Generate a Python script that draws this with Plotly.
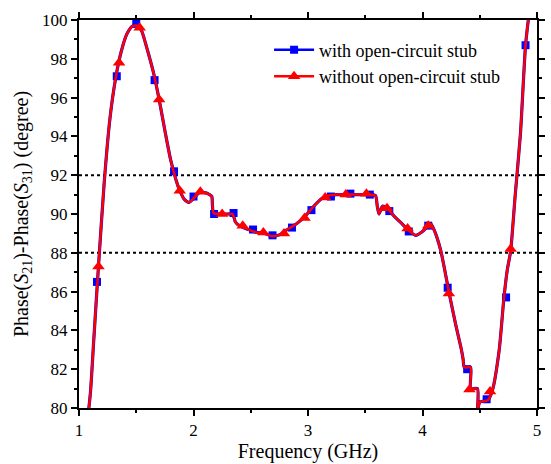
import plotly.graph_objects as go

# ---- data ----
# continuous curve (shared shape for both configurations)
line_freq = [1.075, 1.10, 1.13, 1.17, 1.22, 1.27, 1.32, 1.37, 1.42, 1.47, 1.52, 1.55, 1.60, 1.65, 1.70,
             1.75, 1.80, 1.85, 1.88, 1.92, 1.96, 2.00, 2.05, 2.10, 2.14, 2.16, 2.165, 2.175, 2.22, 2.30,
             2.34, 2.355, 2.365, 2.40, 2.48, 2.55, 2.62, 2.69, 2.76, 2.82, 2.90, 2.97, 3.05, 3.12, 3.18,
             3.25, 3.35, 3.45, 3.55, 3.59, 3.605, 3.62, 3.65, 3.69, 3.75, 3.82, 3.87, 3.94, 4.00, 4.07,
             4.10, 4.16, 4.23, 4.29, 4.34, 4.355, 4.365, 4.42, 4.421, 4.48, 4.481, 4.50, 4.57, 4.61, 4.67,
             4.71, 4.74, 4.77, 4.81, 4.855, 4.90, 4.93]
line_with = [79.4, 80.8, 83.6, 87.3, 91.6, 94.9, 97.0, 98.4, 99.3, 99.7, 99.7, 99.4, 98.4, 97.3, 95.9,
             94.3, 92.8, 91.7, 91.2, 90.75, 90.6, 90.8, 91.1, 91.1, 91.0, 90.9, 90.5, 90.05, 90.0, 90.0,
             90.0, 89.8, 89.6, 89.4, 89.2, 89.05, 89.0, 88.85, 88.95, 89.2, 89.5, 89.85, 90.4, 90.8, 90.95,
             91.0, 91.0, 91.0, 91.0, 90.95, 90.4, 90.0, 90.4, 90.3, 89.9, 89.5, 89.2, 88.9, 89.1, 89.5,
             89.2, 88.1, 86.0, 84.3, 83.0, 82.5, 82.1, 82.1, 81.0, 81.0, 79.8, 80.3, 80.4, 80.9, 83.0,
             85.6, 87.1, 88.1, 91.0, 94.1, 98.7, 100.3]
line_without = list(line_with)

# marker samples
freq_with = [1.157, 1.33, 1.50, 1.66, 1.83, 2.00, 2.18, 2.35, 2.52, 2.69, 2.86, 3.03, 3.20,
             3.37, 3.54, 3.71, 3.88, 4.05, 4.22, 4.39, 4.56, 4.73, 4.90]
phase_with = [86.5, 97.1, 99.8, 96.9, 92.2, 90.9, 90.0, 90.05, 89.2, 88.9, 89.3, 90.2, 90.9,
              91.05, 91.0, 90.15, 89.1, 89.4, 86.2, 82.0, 80.45, 85.7, 98.7]
freq_without = [1.17, 1.35, 1.53, 1.70, 1.88, 2.06, 2.25, 2.43, 2.61, 2.79, 2.97, 3.15, 3.33,
                3.51, 3.69, 3.87, 4.05, 4.23, 4.41, 4.59, 4.77]
phase_without = [87.3, 97.8, 99.6, 95.9, 91.2, 91.15, 90.0, 89.4, 89.05, 89.0, 89.8, 90.85, 91.0,
                 91.05, 90.3, 89.25, 89.4, 85.9, 80.95, 80.85, 88.2]

ref_levels = [92, 88]
x_ticks = [1, 2, 3, 4, 5]
y_ticks = [80, 82, 84, 86, 88, 90, 92, 94, 96, 98, 100]

BLUE = "#0000FF"
RED = "#FF0000"
FONT = "Liberation Serif, Times New Roman, DejaVu Serif, serif"

fig = go.Figure()

# blue curve + squares
fig.add_trace(go.Scatter(x=line_freq, y=line_with, mode="lines",
                         line=dict(color=BLUE, width=3.2, shape="spline", smoothing=0.6),
                         showlegend=False, hoverinfo="skip"))
fig.add_trace(go.Scatter(x=freq_with, y=phase_with, mode="markers",
                         marker=dict(symbol="square", size=8, color=BLUE), showlegend=False))
# red curve + triangles
fig.add_trace(go.Scatter(x=line_freq, y=line_without, mode="lines",
                         line=dict(color=RED, width=2.5, shape="spline", smoothing=0.6),
                         showlegend=False, hoverinfo="skip"))
fig.add_trace(go.Scatter(x=freq_without, y=phase_without, mode="markers",
                         marker=dict(symbol="triangle-up", size=11, color=RED), showlegend=False))

# legend entries
fig.add_trace(go.Scatter(x=[None], y=[None], mode="lines+markers", name="with open-circuit stub",
                         line=dict(color=BLUE, width=2.5),
                         marker=dict(symbol="square", size=8, color=BLUE)))
fig.add_trace(go.Scatter(x=[None], y=[None], mode="lines+markers", name="without open-circuit stub",
                         line=dict(color=RED, width=2.5),
                         marker=dict(symbol="triangle-up", size=11, color=RED)))

for lv in ref_levels:
    fig.add_hline(y=lv, line=dict(color="black", width=2, dash="dot"), layer="below")

axis_common = dict(showline=True, linecolor="black", linewidth=2, mirror="allticks",
                   ticks="outside", ticklen=6, tickwidth=1.5, tickcolor="black",
                   showgrid=False, zeroline=False,
                   tickfont=dict(family=FONT, size=17, color="black"))

fig.update_xaxes(range=[1, 5], tickvals=x_ticks,
                 title=dict(text="Frequency (GHz)", font=dict(family=FONT, size=20, color="black"),
                            standoff=0),
                 minor=dict(ticks="outside", ticklen=3, dtick=0.5, tickcolor="black", tickwidth=1.5),
                 **axis_common)
fig.update_yaxes(range=[80, 100], tickvals=y_ticks,
                 title=dict(text="Phase(<i>S</i><sub>21</sub>)-Phase(<i>S</i><sub>31</sub>) (degree)",
                            font=dict(family=FONT, size=20, color="black"), standoff=8),
                 minor=dict(ticks="outside", ticklen=3, dtick=1, tickcolor="black", tickwidth=1.5),
                 **axis_common)

fig.update_layout(
    width=551, height=464,
    margin=dict(l=79, r=6, t=20, b=56),
    paper_bgcolor="white", plot_bgcolor="white",
    font=dict(family=FONT, color="black"),
    legend=dict(x=0.415, y=0.97, xanchor="left", yanchor="top", itemwidth=40,
                bgcolor="rgba(0,0,0,0)", borderwidth=0, tracegroupgap=0,
                font=dict(family=FONT, size=18, color="black")),
)

fig.write_html("out.html")
